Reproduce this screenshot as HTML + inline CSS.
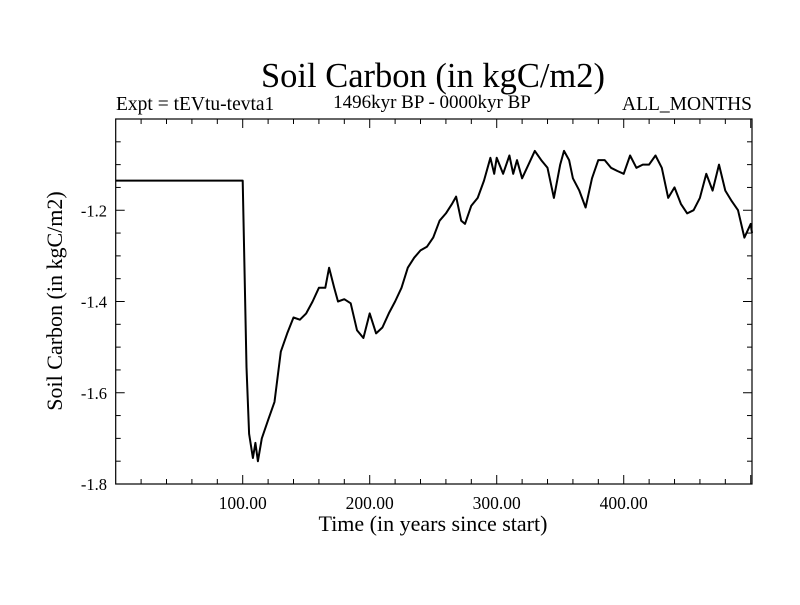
<!DOCTYPE html>
<html><head><meta charset="utf-8"><style>
html,body{margin:0;padding:0;background:#fff;}
svg text{font-family:"Liberation Serif",serif;fill:#000;}
</style></head><body>
<svg id="chart" width="800" height="600" xmlns="http://www.w3.org/2000/svg">
<text x="433" y="87" font-size="34.5" text-anchor="middle">Soil Carbon (in kgC/m2)</text>
<text x="116" y="110" font-size="19.5">Expt = tEVtu-tevta1</text>
<text x="432" y="108" font-size="19" text-anchor="middle">1496kyr BP - 0000kyr BP</text>
<text x="752" y="110" font-size="19.5" text-anchor="end">ALL_MONTHS</text>
<text x="433" y="531" font-size="22" text-anchor="middle">Time (in years since start)</text>
<text x="0" y="0" font-size="22" text-anchor="middle" transform="translate(62,301) rotate(-90)">Soil Carbon (in kgC/m2)</text>
<g id="axes"></g>
<g id="series"></g>
<rect x="115.7" y="119" width="636.3" height="365" fill="none" stroke="#000" stroke-width="1.2"/>
</svg>
<script>
const years = [0,100,103,105,108,110,112,115,120,125,130,135,140,145,150,155,160,165,168,172,175,180,185,190,195,200,205,210,215,220,225,230,235,240,245,250,255,260,265,268,272,275,280,285,290,295,298,300,305,310,313,316,320,325,330,335,340,345,350,353,357,360,365,370,375,380,385,390,395,400,405,410,415,420,425,430,435,440,445,450,455,460,465,470,475,480,485,490,495,500,501];
const carbon = [-1.135,-1.135,-1.544,-1.69,-1.743,-1.71,-1.75,-1.70,-1.66,-1.62,-1.51,-1.47,-1.435,-1.44,-1.426,-1.40,-1.37,-1.37,-1.326,-1.37,-1.40,-1.395,-1.404,-1.463,-1.48,-1.426,-1.47,-1.457,-1.426,-1.40,-1.37,-1.326,-1.304,-1.288,-1.28,-1.26,-1.223,-1.207,-1.185,-1.17,-1.223,-1.23,-1.19,-1.173,-1.135,-1.085,-1.12,-1.085,-1.12,-1.08,-1.12,-1.09,-1.13,-1.10,-1.07,-1.09,-1.107,-1.173,-1.10,-1.07,-1.09,-1.13,-1.157,-1.194,-1.13,-1.09,-1.09,-1.107,-1.114,-1.12,-1.08,-1.107,-1.10,-1.10,-1.08,-1.107,-1.173,-1.15,-1.186,-1.207,-1.20,-1.173,-1.12,-1.157,-1.10,-1.157,-1.18,-1.20,-1.26,-1.23,-1.25];
const xTicks = [100,200,300,400];
const xTickLabels = ["100.00","200.00","300.00","400.00"];
const yTicks = [-1.8,-1.6,-1.4,-1.2];
const yTickLabels = ["-1.8","-1.6","-1.4","-1.2"];
const X0=115.7, X1=752, Y0=484, Y1=119, XMIN=0, XMAX=501, YMIN=-1.8, YMAX=-1.0;
function sx(v){return X0+(v-XMIN)/(XMAX-XMIN)*(X1-X0);}
function sy(v){return Y0-(v-YMIN)/(YMAX-YMIN)*(Y0-Y1);}
const NS="http://www.w3.org/2000/svg";
const axes=document.getElementById('axes');
function line(x1,y1,x2,y2,name){const l=document.createElementNS(NS,'line');l.setAttribute('x1',x1);l.setAttribute('y1',y1);l.setAttribute('x2',x2);l.setAttribute('y2',y2);l.setAttribute('stroke','#000');l.setAttribute('stroke-width','1');


axes.appendChild(l);}
for(let v=20;v<XMAX;v+=20){const major=v%100===0;const len=major?9:5;const x=sx(v);line(x,Y0,x,Y0-len,'x-tick');line(x,Y1,x,Y1+len,'x-tick-top');}
for(let i=1;i<16;i++){const v=YMIN+i*0.05;const major=i%4===0;const len=major?9:5;const y=sy(v);line(X0,y,X0+len,y,'y-tick');line(X1,y,X1-len,y,'y-tick-right');}
xTicks.forEach((v,i)=>{const t=document.createElementNS(NS,'text');t.setAttribute('x',sx(v));t.setAttribute('y',509);t.setAttribute('font-size','17.5');t.setAttribute('text-anchor','middle');t.textContent=xTickLabels[i];


axes.appendChild(t);});
yTicks.forEach((v,i)=>{const t=document.createElementNS(NS,'text');t.setAttribute('x',107);t.setAttribute('y',sy(v)+6);t.setAttribute('font-size','16.5');t.setAttribute('text-anchor','end');t.textContent=yTickLabels[i];


axes.appendChild(t);});
const p=document.createElementNS(NS,'polyline');
p.setAttribute('points',years.map((y,i)=>sx(y).toFixed(1)+','+sy(carbon[i]).toFixed(1)).join(' '));
p.setAttribute('fill','none');p.setAttribute('stroke','#000');p.setAttribute('stroke-width','2');p.setAttribute('stroke-linejoin','round');


document.getElementById('series').appendChild(p);
</script>
</body></html>
